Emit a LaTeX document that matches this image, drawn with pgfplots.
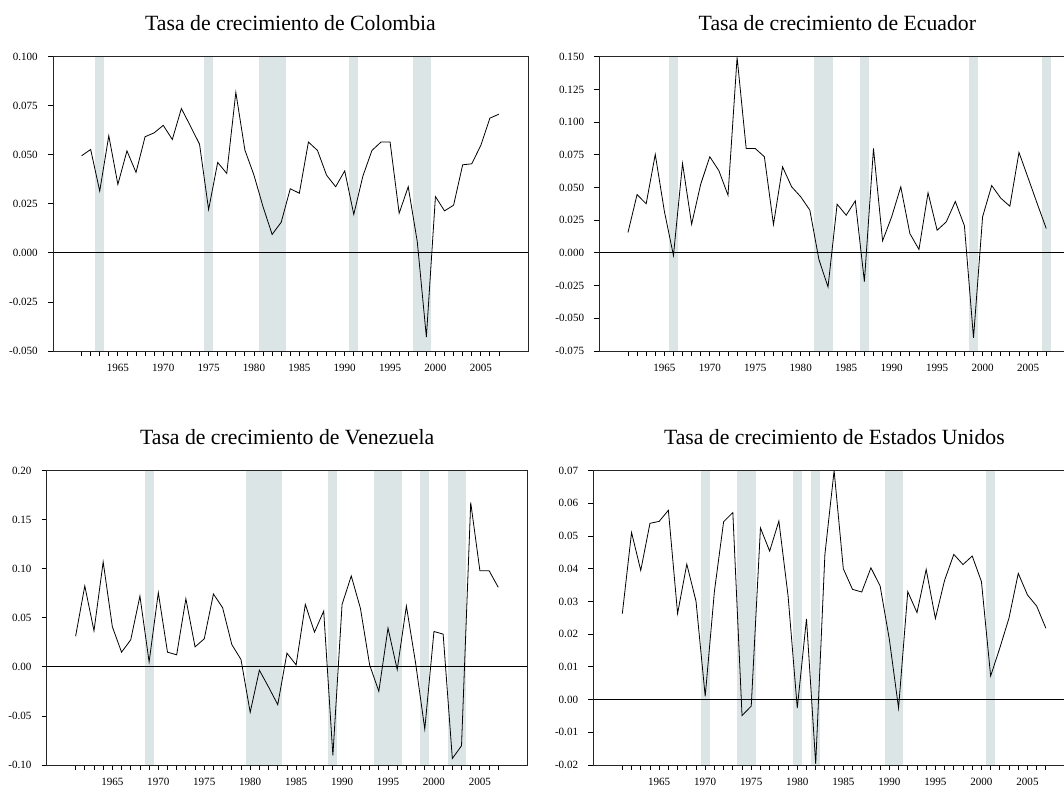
\documentclass[border=0pt]{standalone}
\usepackage{fontspec}
\setmainfont{Liberation Serif}
\usepackage{pgfplots}
\pgfplotsset{compat=1.18}
\definecolor{band}{RGB}{220,229,229}
\newcommand{\band}[2]{\addplot[fill=band,draw=none,forget plot] coordinates {(#1,-1) (#2,-1) (#2,1) (#1,1)} -- cycle;}
\pgfplotsset{
  panel/.style={
    scale only axis, height=220.7pt,
    xmin=1957.85, xmax=2010.2,
    axis on top, scaled y ticks=false,
    xtick={1965,1970,...,2005}, minor xtick={1961,...,2007},
    xticklabel style={/pgf/number format/1000 sep={}, anchor=north, inner sep=0pt, yshift=-5.6pt},
    yticklabel style={anchor=east, inner sep=0pt, xshift=-7.5pt},
    tick align=outside, xtick pos=bottom, ytick pos=left,
    major tick length=3.75pt, minor tick length=3.75pt,
    tick style={black, line width=0.6pt},
    axis line style={black!85, line width=0.6pt},
    ticklabel style={font=\fontsize{8.3}{9}\selectfont},
    /pgf/number format/assume math mode=true,
    title style={font=\fontsize{16.3}{18}\selectfont, anchor=base, at={(0.5,1)}, yshift=13.5pt, inner sep=0pt},
  },
  p3/.style={yticklabel style={/pgf/number format/fixed, /pgf/number format/fixed zerofill, /pgf/number format/precision=3}},
  p2/.style={yticklabel style={/pgf/number format/fixed, /pgf/number format/fixed zerofill, /pgf/number format/precision=2}},
  series/.style={black, line width=0.6pt, mark=none},
  zero/.style={black, line width=0.6pt, forget plot},
}
\begin{document}
\begin{tikzpicture}
\path[use as bounding box] (0,0) rectangle (798pt,590.25pt);
% Colombia
\begin{axis}[panel, p3, width=356.25pt, at={(39.75pt,327pt)}, anchor=south west,
  title={Tasa de crecimiento de Colombia},
  ymin=-0.05, ymax=0.1, ytick={-0.05,-0.025,...,0.1}]
\band{1962.5}{1963.5}\band{1974.5}{1975.5}\band{1980.5}{1983.5}\band{1990.5}{1991.5}\band{1997.5}{1999.5}
\addplot[zero] coordinates {(1950,0) (2020,0)};
\addplot[series] table {
year g
1961 0.0495
1962 0.0527
1963 0.0315
1964 0.0597
1965 0.0349
1966 0.0520
1967 0.0410
1968 0.0592
1969 0.0612
1970 0.0650
1971 0.0578
1972 0.0736
1973 0.0646
1974 0.0554
1975 0.0221
1976 0.0461
1977 0.0405
1978 0.0818
1979 0.0524
1980 0.0396
1981 0.0235
1982 0.0094
1983 0.0156
1984 0.0327
1985 0.0304
1986 0.0565
1987 0.0522
1988 0.0396
1989 0.0337
1990 0.0418
1991 0.0196
1992 0.0391
1993 0.0522
1994 0.0565
1995 0.0565
1996 0.0202
1997 0.0337
1998 0.0056
1999 -0.0429
2000 0.0287
2001 0.0214
2002 0.0243
2003 0.0449
2004 0.0454
2005 0.0548
2006 0.0687
2007 0.0707
};
\end{axis}
% Ecuador
\begin{axis}[panel, p3, width=357pt, at={(449.5pt,327pt)}, anchor=south west,
  title={Tasa de crecimiento de Ecuador},
  ymin=-0.075, ymax=0.15, ytick={-0.075,-0.05,...,0.15}]
\band{1965.5}{1966.5}\band{1981.5}{1983.5}\band{1986.5}{1987.5}\band{1998.5}{1999.5}\band{2006.5}{2007.5}
\addplot[zero] coordinates {(1950,0) (2020,0)};
\addplot[series] table {
year g
1961 0.0156
1962 0.0446
1963 0.0375
1964 0.0753
1965 0.0319
1966 -0.0020
1967 0.0684
1968 0.0219
1969 0.0526
1970 0.0735
1971 0.0628
1972 0.0441
1973 0.1495
1974 0.0798
1975 0.0798
1976 0.0735
1977 0.0217
1978 0.0658
1979 0.0505
1980 0.0429
1981 0.0327
1982 -0.0051
1983 -0.0260
1984 0.0372
1985 0.0288
1986 0.0398
1987 -0.0219
1988 0.0798
1989 0.0092
1990 0.0276
1991 0.0505
1992 0.0148
1993 0.0026
1994 0.0459
1995 0.0173
1996 0.0237
1997 0.0393
1998 0.0207
1999 -0.0650
2000 0.0276
2001 0.0515
2002 0.0418
2003 0.0357
2004 0.0768
2005 0.0574
2006 0.0378
2007 0.0186
};
\end{axis}
% Venezuela
\begin{axis}[panel, p2, width=360.75pt, at={(35pt,16.5pt)}, anchor=south west,
  title={Tasa de crecimiento de Venezuela},
  ymin=-0.1, ymax=0.2, ytick={-0.1,-0.05,...,0.2}]
\band{1968.5}{1969.5}\band{1979.5}{1983.5}\band{1988.5}{1989.5}\band{1993.5}{1996.5}\band{1998.5}{1999.5}\band{2001.5}{2003.5}
\addplot[zero] coordinates {(1950,0) (2020,0)};
\addplot[series] table {
year g
1961 0.0313
1962 0.0825
1963 0.0368
1964 0.1070
1965 0.0409
1966 0.0150
1967 0.0276
1968 0.0722
1969 0.0051
1970 0.0756
1971 0.0150
1972 0.0123
1973 0.0695
1974 0.0204
1975 0.0286
1976 0.0743
1977 0.0603
1978 0.0228
1979 0.0075
1980 -0.0463
1981 -0.0034
1982 -0.0205
1983 -0.0385
1984 0.0140
1985 0.0020
1986 0.0637
1987 0.0354
1988 0.0569
1989 -0.0903
1990 0.0637
1991 0.0927
1992 0.0596
1993 0.0020
1994 -0.0249
1995 0.0395
1996 -0.0027
1997 0.0620
1998 0.0041
1999 -0.0634
2000 0.0361
2001 0.0334
2002 -0.0934
2003 -0.0804
2004 0.1676
2005 0.0981
2006 0.0981
2007 0.0811
};
\end{axis}
% Estados Unidos
\begin{axis}[panel, p2, width=361.5pt, at={(445pt,16.5pt)}, anchor=south west,
  title={Tasa de crecimiento de Estados Unidos},
  ymin=-0.02, ymax=0.07, ytick={-0.02,-0.01,...,0.07}]
\band{1969.5}{1970.5}\band{1973.5}{1975.5}\band{1979.5}{1980.5}\band{1981.5}{1982.5}\band{1989.5}{1991.5}\band{2000.5}{2001.5}
\addplot[zero] coordinates {(1950,0) (2020,0)};
\addplot[series] table {
year g
1961 0.0263
1962 0.0511
1963 0.0395
1964 0.0539
1965 0.0545
1966 0.0579
1967 0.0263
1968 0.0414
1969 0.0301
1970 0.0010
1971 0.0331
1972 0.0544
1973 0.0572
1974 -0.0049
1975 -0.0020
1976 0.0525
1977 0.0454
1978 0.0546
1979 0.0317
1980 -0.0026
1981 0.0247
1982 -0.0197
1983 0.0444
1984 0.0700
1985 0.0400
1986 0.0337
1987 0.0329
1988 0.0403
1989 0.0347
1990 0.0184
1991 -0.0026
1992 0.0330
1993 0.0266
1994 0.0398
1995 0.0248
1996 0.0365
1997 0.0444
1998 0.0413
1999 0.0439
2000 0.0361
2001 0.0072
2002 0.0158
2003 0.0250
2004 0.0386
2005 0.0320
2006 0.0286
2007 0.0218
};
\end{axis}
\end{tikzpicture}
\end{document}
